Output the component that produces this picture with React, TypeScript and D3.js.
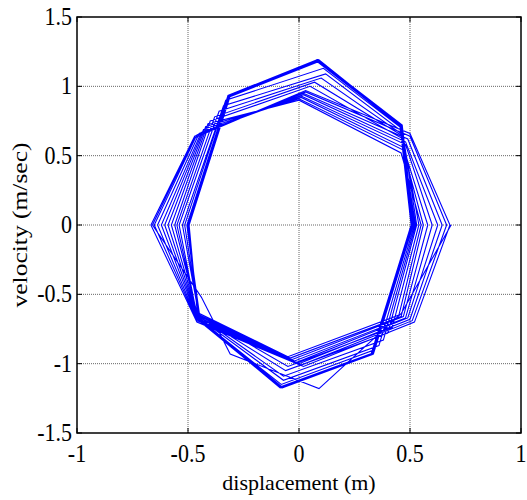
import * as d3 from "d3";

// axis ranges and ticks
const xTicks = [-1, -0.5, 0, 0.5, 1];
const yTicks = [-1.5, -1, -0.5, 0, 0.5, 1, 1.5];
const xTickLabels = ["-1", "-0.5", "0", "0.5", "1"];
const yTickLabels = ["-1.5", "-1", "-0.5", "0", "0.5", "1", "1.5"];

// phase trajectory, loop by loop
// each loop: top, upper-right, right, lower-right, bottom, lower-left, left, upper-left
const startLoop: [number, number][] = [
  [0.685, 0], [0.46, -0.64], [0.09, -1.18], [-0.31, -0.93], [-0.44, -0.52], [-0.66, 0], [-0.47, 0.63],
];

const outerLoops: [number, number][][] = [
  [[0.03, 0.97], [0.5, 0.66], [0.68, 0], [0.52, -0.7], [0.02, -1.02], [-0.46, -0.7], [-0.667, 0], [-0.47, 0.64]],
  [[0.03, 0.96], [0.5, 0.64], [0.665, 0], [0.51, -0.69], [0.01, -1.01], [-0.46, -0.69], [-0.652, 0], [-0.46, 0.65]],
  [[0.02, 0.95], [0.49, 0.62], [0.645, 0], [0.5, -0.68], [0.0, -1.0], [-0.46, -0.68], [-0.637, 0], [-0.45, 0.66]],
  [[0.02, 0.94], [0.48, 0.6], [0.625, 0], [0.49, -0.67], [-0.01, -0.99], [-0.46, -0.67], [-0.62, 0], [-0.44, 0.67]],
  [[0.01, 0.93], [0.48, 0.58], [0.6, 0], [0.48, -0.67], [-0.02, -0.98], [-0.46, -0.66], [-0.605, 0], [-0.43, 0.69]],
  [[0.01, 0.92], [0.47, 0.56], [0.58, 0], [0.47, -0.66], [-0.03, -0.97], [-0.46, -0.65], [-0.59, 0], [-0.42, 0.71]],
  [[0.0, 0.91], [0.47, 0.54], [0.56, 0], [0.46, -0.66], [-0.04, -0.96], [-0.46, -0.64], [-0.575, 0], [-0.41, 0.73]],
  [[0.0, 0.9], [0.46, 0.52], [0.55, 0], [0.45, -0.65], [-0.05, -0.95], [-0.46, -0.63], [-0.56, 0], [-0.4, 0.75]],
];

const middleLoops: [number, number][][] = [
  [[0.05, 1.0], [0.47, 0.62], [0.54, 0], [0.42, -0.74], [-0.05, -1.02], [-0.46, -0.64], [-0.55, 0], [-0.38, 0.78]],
  [[0.07, 1.03], [0.47, 0.64], [0.53, 0], [0.4, -0.78], [-0.06, -1.05], [-0.46, -0.65], [-0.54, 0], [-0.36, 0.82]],
  [[0.1, 1.06], [0.46, 0.66], [0.525, 0], [0.38, -0.83], [-0.07, -1.09], [-0.45, -0.66], [-0.525, 0], [-0.34, 0.86]],
  [[0.12, 1.09], [0.46, 0.68], [0.52, 0], [0.36, -0.87], [-0.07, -1.12], [-0.45, -0.67], [-0.515, 0], [-0.33, 0.9]],
  [[0.11, 1.13], [0.46, 0.7], [0.515, 0], [0.34, -0.9], [-0.08, -1.15], [-0.45, -0.68], [-0.505, 0], [-0.32, 0.92]],
];

const innerLoops: [number, number][][] = [
  [[0.09, 1.18], [0.46, 0.71], [0.51, 0], [0.33, -0.93], [-0.08, -1.17], [-0.45, -0.68], [-0.5, 0], [-0.315, 0.93]],
  [[0.085, 1.19], [0.455, 0.71], [0.505, 0], [0.325, -0.93], [-0.085, -1.17], [-0.455, -0.685], [-0.495, 0], [-0.31, 0.935]],
  [[0.08, 1.185], [0.46, 0.72], [0.51, 0], [0.33, -0.935], [-0.08, -1.175], [-0.45, -0.69], [-0.5, 0], [-0.32, 0.93]],
  [[0.09, 1.19], [0.465, 0.71], [0.515, 0], [0.335, -0.925], [-0.075, -1.17], [-0.445, -0.68], [-0.505, 0], [-0.315, 0.925]],
  [[0.085, 1.18], [0.46, 0.705], [0.51, 0], [0.33, -0.93], [-0.08, -1.165], [-0.45, -0.675], [-0.5, 0], [-0.32, 0.935]],
  [[0.08, 1.19], [0.455, 0.715], [0.505, 0], [0.325, -0.935], [-0.085, -1.175], [-0.455, -0.68], [-0.495, 0], [-0.31, 0.93]],
  [[0.09, 1.185], [0.46, 0.71], [0.51, 0], [0.33, -0.93], [-0.08, -1.17], [-0.45, -0.685], [-0.5, 0], [-0.315, 0.93]],
  [[0.085, 1.19], [0.465, 0.72], [0.515, 0], [0.335, -0.93], [-0.075, -1.175], [-0.445, -0.69], [-0.505, 0], [-0.32, 0.925]],
  [[0.08, 1.18], [0.46, 0.71], [0.51, 0], [0.33, -0.925], [-0.08, -1.165], [-0.45, -0.68], [-0.5, 0], [-0.315, 0.93]],
  [[0.085, 1.19], [0.46, 0.715], [0.51, 0], [0.33, -0.93], [-0.08, -1.17], [-0.45, -0.68], [-0.5, 0], [-0.315, 0.93]],
];

const W = 527;
const H = 500;
const margin = { top: 17, right: 6, bottom: 67, left: 77 };
const serif = "Liberation Serif, Times New Roman, DejaVu Serif, serif";

export default function App() {
  const x = d3.scaleLinear().domain([-1, 1]).range([margin.left, W - margin.right]);
  const y = d3.scaleLinear().domain([-1.5, 1.5]).range([H - margin.bottom, margin.top]);

  const points: [number, number][] = [
    ...startLoop,
    ...outerLoops.flat(),
    ...middleLoops.flat(),
    ...innerLoops.flat(),
    innerLoops[innerLoops.length - 1][0],
  ];
  const line = d3
    .line<[number, number]>()
    .x((d) => x(d[0]))
    .y((d) => y(d[1]));

  const x0 = x(-1);
  const x1 = x(1);
  const y0 = y(-1.5);
  const y1 = y(1.5);
  const tick = 5;
  const txt = { fontFamily: serif, fontSize: "22px", fill: "#000" };

  return (
    <svg
      width={W}
      height={H}
      style={{ position: "absolute", left: 0, top: 0, background: "#fff" }}
    >
      {/* grid */}
      <g stroke="#666" strokeWidth={1} strokeDasharray="1,1">
        {xTicks.slice(1, -1).map((t) => (
          <line key={"gx" + t} x1={x(t)} x2={x(t)} y1={y0} y2={y1} />
        ))}
        {yTicks.slice(1, -1).map((t) => (
          <line key={"gy" + t} x1={x0} x2={x1} y1={y(t)} y2={y(t)} />
        ))}
      </g>

      {/* trajectory */}
      <path d={line(points) ?? ""} fill="none" stroke="#0000ff" strokeWidth={1.1} strokeLinejoin="miter" />

      {/* inward ticks on all sides */}
      <g stroke="#000" strokeWidth={1}>
        {xTicks.map((t) => (
          <g key={"tx" + t}>
            <line x1={x(t)} x2={x(t)} y1={y0} y2={y0 - tick} />
            <line x1={x(t)} x2={x(t)} y1={y1} y2={y1 + tick} />
          </g>
        ))}
        {yTicks.map((t) => (
          <g key={"ty" + t}>
            <line x1={x0} x2={x0 + tick} y1={y(t)} y2={y(t)} />
            <line x1={x1} x2={x1 - tick} y1={y(t)} y2={y(t)} />
          </g>
        ))}
      </g>

      {/* box */}
      <rect x={x0} y={y1} width={x1 - x0} height={y0 - y1} fill="none" stroke="#000" strokeWidth={1.5} />

      {/* tick labels */}
      {xTicks.map((t, i) => (
        <text
          key={"lx" + t}
          transform={`translate(${x(t)},${y0 + 29}) scale(1,1.15)`}
          textAnchor="middle"
          style={txt}
        >
          {xTickLabels[i]}
        </text>
      ))}
      {yTicks.map((t, i) => (
        <text
          key={"ly" + t}
          transform={`translate(${x0 - 5},${y(t) + 8}) scale(1,1.15)`}
          textAnchor="end"
          style={txt}
        >
          {yTickLabels[i]}
        </text>
      ))}

      {/* axis titles */}
      <text x={(x0 + x1) / 2} y={490} textAnchor="middle" style={txt}>
        displacement (m)
      </text>
      <text
        transform={`translate(27,${(y0 + y1) / 2}) scale(1,1.16) rotate(-90)`}
        textAnchor="middle"
        style={txt}
      >
        velocity (m/sec)
      </text>
    </svg>
  );
}
